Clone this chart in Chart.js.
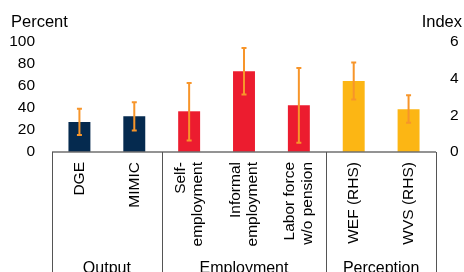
<!DOCTYPE html>
<html>
<head>
<meta charset="utf-8">
<script src="https://cdn.jsdelivr.net/npm/chart.js@4/dist/chart.umd.min.js"></script>
<style>
  html, body { margin: 0; padding: 0; background: #fff; }
  #chart { display: block; }
</style>
</head>
<body>
<canvas id="chart" width="464" height="272"></canvas>
<script>
const categories = [['DGE'], ['MIMIC'], ['Self-', 'employment'], ['Informal', 'employment'], ['Labor force', 'w/o pension'], ['WEF (RHS)'], ['WVS (RHS)']];
const groups = ['Output', 'Employment', 'Perception'];
const groupStart = [0, 2, 5];
const groupEnd = [1, 4, 6];

// left axis, percent
const percentValues = [27.3, 32.5, 37.0, 73.4, 42.5, null, null];
const percentLow = [15.5, 19.5, 10.4, 52.2, 8.5, null, null];
const percentHigh = [39.4, 45.2, 62.7, 94.5, 76.4, null, null];

// right axis, index
const indexValues = [null, null, null, null, null, 3.87, 2.33];
const indexLow = [null, null, null, null, null, 2.86, 1.60];
const indexHigh = [null, null, null, null, null, 4.88, 3.09];

const percentTicks = [0, 20, 40, 60, 80, 100];
const indexTicks = [0, 2, 4, 6];

const barColors = ['#052a4f', '#052a4f', '#ec1c2f', '#ec1c2f', '#ec1c2f', '#fcb614', '#fcb614'];
const errColor = '#f7952a';
const FONT = '"Liberation Sans", Arial, sans-serif';

const decor = {
    id: 'decor',
    afterDatasetsDraw(chart) {
        const ctx = chart.ctx;
        const x = chart.scales.x;
        ctx.save();
        ctx.strokeStyle = errColor;
        ctx.lineWidth = 2;
        const drawErr = (lo, hi, scale) => {
            lo.forEach((v, i) => {
                if (v === null) return;
                const px = x.getPixelForValue(i);
                const y1 = scale.getPixelForValue(v);
                const y2 = scale.getPixelForValue(hi[i]);
                ctx.beginPath();
                ctx.moveTo(px, y1); ctx.lineTo(px, y2);
                ctx.moveTo(px - 2.5, y1); ctx.lineTo(px + 2.5, y1);
                ctx.moveTo(px - 2.5, y2); ctx.lineTo(px + 2.5, y2);
                ctx.stroke();
            });
        };
        drawErr(percentLow, percentHigh, chart.scales.y);
        drawErr(indexLow, indexHigh, chart.scales.y2);
        ctx.restore();
    },
    afterDraw(chart) {
        const ctx = chart.ctx;
        const area = chart.chartArea;
        const x = chart.scales.x;
        ctx.save();

        // axis line
        ctx.strokeStyle = '#6f6f6f';
        ctx.lineWidth = 1.5;
        ctx.beginPath();
        ctx.moveTo(area.left, area.bottom);
        ctx.lineTo(area.right, area.bottom);
        ctx.stroke();

        // group separators
        ctx.strokeStyle = '#555';
        ctx.lineWidth = 1;
        const bounds = [area.left];
        for (let g = 0; g < groups.length - 1; g++) {
            bounds.push((x.getPixelForValue(groupEnd[g]) + x.getPixelForValue(groupStart[g + 1])) / 2);
        }
        bounds.push(area.right);
        bounds.forEach(b => {
            const bx = Math.round(b) + 0.5;
            ctx.beginPath();
            ctx.moveTo(bx, area.bottom);
            ctx.lineTo(bx, chart.height);
            ctx.stroke();
        });

        // axis titles
        ctx.fillStyle = '#000';
        ctx.font = '16.5px ' + FONT;
        ctx.textBaseline = 'alphabetic';
        ctx.textAlign = 'left';
        ctx.fillText('Percent', 11, 27);
        ctx.textAlign = 'right';
        ctx.fillText('Index', 462, 27);

        // category labels, rotated
        ctx.font = '15.5px ' + FONT;
        categories.forEach((lines, i) => {
            const px = x.getPixelForValue(i);
            ctx.save();
            ctx.translate(px, area.bottom + 10);
            ctx.rotate(-Math.PI / 2);
            ctx.textAlign = 'right';
            ctx.textBaseline = 'middle';
            lines.forEach((t, j) => {
                ctx.fillText(t, 0, (j - (lines.length - 1) / 2) * 17.5);
            });
            ctx.restore();
        });

        // group labels
        ctx.font = '16px ' + FONT;
        ctx.textAlign = 'center';
        ctx.textBaseline = 'alphabetic';
        groups.forEach((g, k) => {
            const cx = (bounds[k] + bounds[k + 1]) / 2;
            ctx.fillText(g, cx, 272.5);
        });
        ctx.restore();
    }
};

new Chart(document.getElementById('chart'), {
    type: 'bar',
    data: {
        labels: categories,
        datasets: [{
            label: 'Percent',
            data: percentValues,
            yAxisID: 'y',
            backgroundColor: barColors,
            grouped: false,
            barPercentage: 0.4,
            categoryPercentage: 1
        }, {
            label: 'Index',
            data: indexValues,
            yAxisID: 'y2',
            backgroundColor: barColors,
            grouped: false,
            barPercentage: 0.4,
            categoryPercentage: 1
        }]
    },
    options: {
        responsive: false,
        animation: false,
        devicePixelRatio: 1,
        layout: { padding: { top: 42, left: 0, right: 0, bottom: 0 } },
        plugins: {
            legend: { display: false },
            tooltip: { enabled: false }
        },
        scales: {
            x: {
                grid: { display: false, drawTicks: false },
                border: { display: false },
                ticks: { display: false },
                afterFit: function(s) { s.height = 120; }
            },
            y: {
                position: 'left',
                min: 0,
                max: 100,
                afterBuildTicks: function(s) { s.ticks = percentTicks.map(v => ({ value: v })); },
                grid: { display: false, drawTicks: false },
                border: { display: false },
                ticks: { color: '#000', padding: 17, font: { family: FONT, size: 15.5 } },
                afterFit: function(s) { s.width = 52; }
            },
            y2: {
                position: 'right',
                min: 0,
                max: 6,
                afterBuildTicks: function(s) { s.ticks = indexTicks.map(v => ({ value: v })); },
                grid: { display: false, drawTicks: false },
                border: { display: false },
                ticks: { color: '#000', padding: 14, font: { family: FONT, size: 15.5 } },
                afterFit: function(s) { s.width = 28; }
            }
        }
    },
    plugins: [decor]
});
</script>
</body>
</html>
